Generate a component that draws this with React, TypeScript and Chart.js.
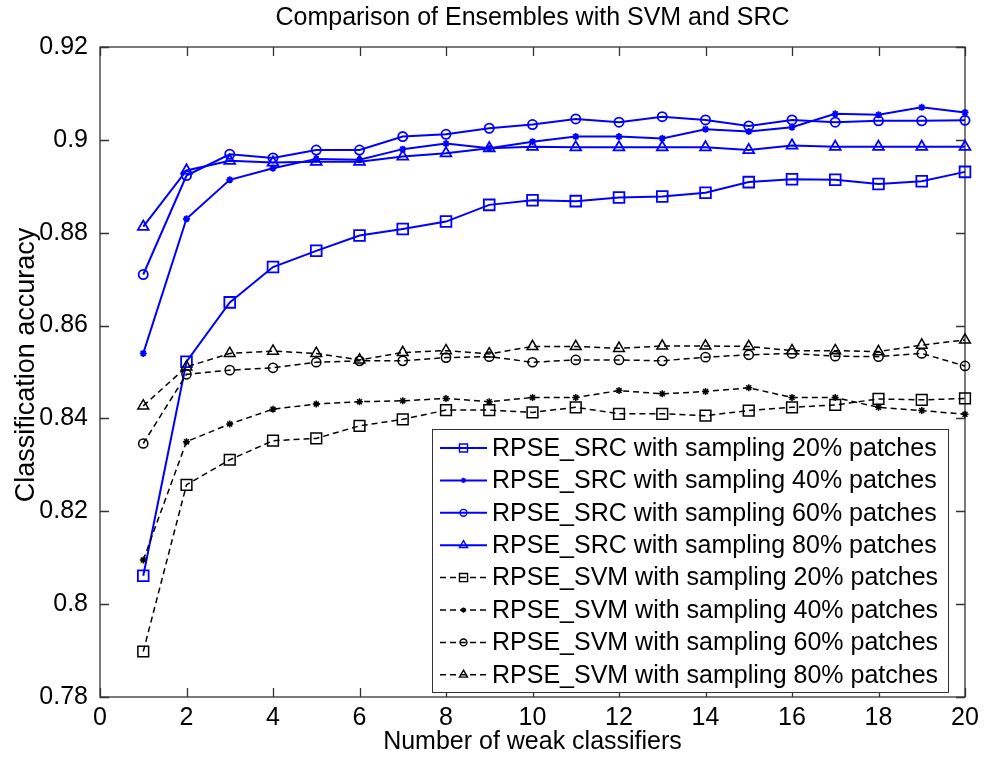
import React, { useEffect, useRef } from 'react';
import { Chart, registerables } from 'chart.js';

Chart.register(...registerables);

const titleText = 'Comparison of Ensembles with SVM and SRC';
const xTitle = 'Number of weak classifiers';
const yTitle = 'Classification accuracy';

const xValues = [1, 2, 3, 4, 5, 6, 7, 8, 9, 10, 11, 12, 13, 14, 15, 16, 17, 18, 19, 20];
const xTicks = [0, 2, 4, 6, 8, 10, 12, 14, 16, 18, 20];
const xTickLabels = ['0', '2', '4', '6', '8', '10', '12', '14', '16', '18', '20'];
const yTicks = [0.78, 0.8, 0.82, 0.84, 0.86, 0.88, 0.9, 0.92];
const yTickLabels = ['0.78', '0.8', '0.82', '0.84', '0.86', '0.88', '0.9', '0.92'];

const src20 = [0.8061, 0.8522, 0.8650, 0.8726, 0.8761, 0.8794, 0.8808, 0.8824, 0.8860, 0.8870, 0.8868, 0.8876, 0.8878, 0.8886, 0.8909, 0.8915, 0.8914, 0.8905, 0.8911, 0.8931];
const src40 = [0.8540, 0.8830, 0.8914, 0.8939, 0.8959, 0.8957, 0.8980, 0.8992, 0.8982, 0.8996, 0.9007, 0.9007, 0.9003, 0.9023, 0.9018, 0.9027, 0.9056, 0.9054, 0.9070, 0.9059];
const src60 = [0.8710, 0.8923, 0.8969, 0.8961, 0.8978, 0.8978, 0.9007, 0.9012, 0.9025, 0.9033, 0.9045, 0.9038, 0.9050, 0.9043, 0.9030, 0.9043, 0.9038, 0.9041, 0.9041, 0.9042];
const src80 = [0.8813, 0.8934, 0.8955, 0.8951, 0.8953, 0.8953, 0.8964, 0.8971, 0.8982, 0.8985, 0.8984, 0.8984, 0.8984, 0.8984, 0.8978, 0.8988, 0.8985, 0.8985, 0.8985, 0.8985];
const svm20 = [0.7898, 0.8257, 0.8311, 0.8352, 0.8357, 0.8384, 0.8398, 0.8418, 0.8418, 0.8413, 0.8424, 0.8410, 0.8410, 0.8406, 0.8417, 0.8424, 0.8429, 0.8442, 0.8440, 0.8443];
const svm40 = [0.8095, 0.8350, 0.8388, 0.8420, 0.8431, 0.8436, 0.8438, 0.8443, 0.8436, 0.8445, 0.8445, 0.8460, 0.8453, 0.8458, 0.8466, 0.8445, 0.8445, 0.8424, 0.8417, 0.8409];
const svm60 = [0.8346, 0.8495, 0.8504, 0.8509, 0.8521, 0.8524, 0.8524, 0.8531, 0.8533, 0.8521, 0.8526, 0.8526, 0.8524, 0.8532, 0.8537, 0.8540, 0.8534, 0.8533, 0.8540, 0.8513];
const svm80 = [0.8427, 0.8511, 0.8540, 0.8545, 0.8540, 0.8526, 0.8542, 0.8546, 0.8539, 0.8555, 0.8555, 0.8551, 0.8556, 0.8556, 0.8555, 0.8546, 0.8546, 0.8544, 0.8558, 0.8569];

const seriesLabels = [
  'RPSE_SRC with sampling 20% patches',
  'RPSE_SRC with sampling 40% patches',
  'RPSE_SRC with sampling 60% patches',
  'RPSE_SRC with sampling 80% patches',
  'RPSE_SVM with sampling 20% patches',
  'RPSE_SVM with sampling 40% patches',
  'RPSE_SVM with sampling 60% patches',
  'RPSE_SVM with sampling 80% patches',
];
const seriesValues = [src20, src40, src60, src80, svm20, svm40, svm60, svm80];

const FONT = '"Liberation Sans", Arial, Helvetica, sans-serif';
const BLUE = '#0000ff';
const BLACK = '#000000';
const AXIS = '#333333';

const markerStyles = ['rect', 'star', 'circle', 'triangle'];
const markerRadius: Record<string, number> = { rect: 7.6, star: 3.5, circle: 4.6, triangle: 6.2 };

function drawMarker(ctx: CanvasRenderingContext2D, style: string, x: number, y: number, r: number) {
  ctx.beginPath();
  if (style === 'rect') {
    const s = r * Math.SQRT1_2;
    ctx.rect(x - s, y - s, 2 * s, 2 * s);
  } else if (style === 'circle') {
    ctx.arc(x, y, r, 0, Math.PI * 2);
  } else if (style === 'triangle') {
    ctx.moveTo(x, y - r);
    ctx.lineTo(x + r * 0.866, y + r * 0.5);
    ctx.lineTo(x - r * 0.866, y + r * 0.5);
    ctx.closePath();
  } else {
    ctx.moveTo(x - r, y); ctx.lineTo(x + r, y);
    ctx.moveTo(x, y - r); ctx.lineTo(x, y + r);
    const d = r * Math.SQRT1_2;
    ctx.moveTo(x - d, y - d); ctx.lineTo(x + d, y + d);
    ctx.moveTo(x - d, y + d); ctx.lineTo(x + d, y - d);
  }
  ctx.stroke();
}

const framePlugin = {
  id: 'matlabFrame',
  beforeDatasetsDraw(chart: any) {
    const { ctx, chartArea } = chart;
    const { left, right, top, bottom } = chartArea;
    const xs = chart.scales.x;
    const ys = chart.scales.y;
    ctx.save();
    ctx.strokeStyle = AXIS;
    ctx.lineWidth = 1.3;
    ctx.strokeRect(left, top, right - left, bottom - top);
    const tl = 9;
    ctx.beginPath();
    xTicks.forEach((v) => {
      const px = Math.round(xs.getPixelForValue(v)) + 0.5;
      ctx.moveTo(px, bottom); ctx.lineTo(px, bottom - tl);
      ctx.moveTo(px, top); ctx.lineTo(px, top + tl);
    });
    yTicks.forEach((v) => {
      const py = Math.round(ys.getPixelForValue(v)) + 0.5;
      ctx.moveTo(left, py); ctx.lineTo(left + tl, py);
      ctx.moveTo(right, py); ctx.lineTo(right - tl, py);
    });
    ctx.stroke();
    ctx.restore();
  },
  afterDraw(chart: any) {
    const { ctx, chartArea } = chart;
    const { left, right, top, bottom } = chartArea;
    ctx.save();
    ctx.fillStyle = '#000';
    ctx.font = `25px ${FONT}`;
    ctx.textAlign = 'center';
    ctx.textBaseline = 'middle';
    ctx.fillText(titleText, (left + right) / 2, 18);
    ctx.fillText(xTitle, (left + right) / 2, 742);
    ctx.save();
    ctx.font = `27px ${FONT}`;
    ctx.translate(27, 365);
    ctx.rotate(-Math.PI / 2);
    ctx.fillText(yTitle, 0, 0);
    ctx.restore();

    // legend
    const bw = 516;
    const bh = 263;
    const bx = right - 17 - bw;
    const by = bottom - 5 - bh;
    ctx.fillStyle = '#ffffff';
    ctx.fillRect(bx, by, bw, bh);
    ctx.strokeStyle = AXIS;
    ctx.lineWidth = 1;
    ctx.strokeRect(Math.round(bx) + 0.5, Math.round(by) + 0.5, bw, bh);
    ctx.textAlign = 'left';
    ctx.textBaseline = 'middle';
    chart.data.datasets.forEach((ds: any, i: number) => {
      const cy = by + 19 + i * 32.4;
      const lx0 = bx + 8;
      const lx1 = bx + 55;
      const mx = (lx0 + lx1) / 2;
      ctx.strokeStyle = ds.borderColor;
      ctx.lineWidth = ds.borderWidth;
      ctx.setLineDash(ds.borderDash || []);
      ctx.beginPath();
      ctx.moveTo(lx0, cy); ctx.lineTo(lx1, cy);
      ctx.stroke();
      ctx.setLineDash([]);
      ctx.lineWidth = 1.4;
      drawMarker(ctx, ds.pointStyle, mx, cy, ds.pointRadius * 0.75);
      ctx.fillStyle = '#000';
      ctx.font = `25px ${FONT}`;
      ctx.fillText(ds.label, bx + 60, cy + 1);
    });
    ctx.restore();
  },
};

export default function App() {
  const canvasRef = useRef<HTMLCanvasElement | null>(null);

  useEffect(() => {
    const canvas = canvasRef.current;
    if (!canvas) return;
    const datasets = seriesValues.map((vals, i) => {
      const isSrc = i < 4;
      const style = markerStyles[i % 4];
      return {
        label: seriesLabels[i],
        data: xValues.map((x, j) => ({ x, y: vals[j] })),
        borderColor: isSrc ? BLUE : BLACK,
        borderWidth: isSrc ? 2 : 1.5,
        borderDash: isSrc ? [] : [6, 4],
        pointStyle: style,
        pointRadius: markerRadius[style],
        pointBorderWidth: isSrc ? 1.8 : 1.5,
        pointBorderColor: isSrc ? BLUE : BLACK,
        pointBackgroundColor: 'rgba(0,0,0,0)',
        backgroundColor: 'rgba(0,0,0,0)',
        fill: false,
        tension: 0,
        clip: false,
        order: isSrc ? 1 : 0,
      };
    });
    const chart = new Chart(canvas, {
      type: 'line',
      data: { datasets },
      options: {
        animation: false,
        responsive: false,
        devicePixelRatio: 1,
        layout: { padding: { top: 47, right: 19, left: 0, bottom: 0 } },
        plugins: { legend: { display: false }, tooltip: { enabled: false }, title: { display: false } },
        scales: {
          x: {
            type: 'linear',
            min: 0,
            max: 20,
            grid: { display: false },
            border: { display: false },
            afterBuildTicks: (s: any) => { s.ticks = xTicks.map((v) => ({ value: v })); },
            afterFit: (s: any) => { s.height = 61; },
            ticks: {
              color: '#000',
              font: { family: FONT, size: 25 },
              padding: -2,
              maxRotation: 0,
              autoSkip: false,
              callback: (_v: any, idx: number) => xTickLabels[idx],
            },
          },
          y: {
            type: 'linear',
            min: 0.78,
            max: 0.92,
            grid: { display: false },
            border: { display: false },
            afterBuildTicks: (s: any) => { s.ticks = yTicks.map((v) => ({ value: v })); },
            afterFit: (s: any) => { s.width = 100; },
            ticks: {
              color: '#000',
              font: { family: FONT, size: 25 },
              padding: 4,
              autoSkip: false,
              callback: (_v: any, idx: number) => yTickLabels[idx],
            },
          },
        },
      },
      plugins: [framePlugin],
    } as any);
    return () => chart.destroy();
  }, []);

  return (
    <div style={{ position: 'absolute', left: 0, top: 0, width: 984, height: 758, background: '#fff' }}>
      <canvas ref={canvasRef} width={984} height={758} style={{ width: 984, height: 758, display: 'block' }} />
    </div>
  );
}
